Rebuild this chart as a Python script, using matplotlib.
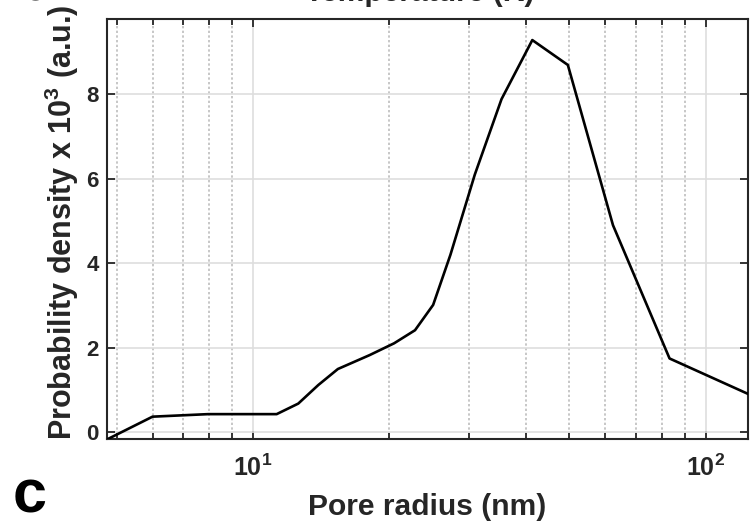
"""Pore radius distribution (panel c), MATLAB-style log-x line plot."""

import matplotlib

matplotlib.use("Agg")
import matplotlib.pyplot as plt
from matplotlib.ticker import FixedLocator, LogLocator, NullFormatter

plt.rcParams["font.family"] = ["Liberation Sans", "DejaVu Sans"]
plt.rcParams["font.weight"] = "bold"
plt.rcParams["mathtext.fontset"] = "custom"
plt.rcParams["mathtext.rm"] = "Liberation Sans:bold"
plt.rcParams["mathtext.bf"] = "Liberation Sans:bold"
plt.rcParams["mathtext.it"] = "Liberation Sans:bold"

# values
pore_radius_nm = [4.76, 6.0, 7.96, 11.28, 12.59, 13.94, 15.4, 18.1, 20.5,
                  22.8, 25.0, 27.3, 30.9, 35.4, 41.4, 49.6, 62.4, 83.2, 124.0]
density_e3 = [-0.18, 0.36, 0.42, 0.42, 0.67, 1.11, 1.49, 1.82, 2.1,
              2.41, 3.01, 4.2, 6.1, 7.89, 9.29, 8.7, 4.9, 1.74, 0.9]
y_ticks = [0, 2, 4, 6, 8]
x_ticks = [10, 100]
x_tick_labels = [r"$\mathbf{10^{1}}$", r"$\mathbf{10^{2}}$"]

TEXT = "#262626"

fig = plt.figure(figsize=(7.52, 5.29), dpi=100)
ax = fig.add_axes([0.1423, 0.1701, 0.8524, 0.7940])

ax.plot(pore_radius_nm, density_e3, color="black", linewidth=1.9, zorder=3)

ax.set_xscale("log")
ax.set_xlim(4.76, 124)
ax.set_ylim(-0.17, 9.79)

ax.xaxis.set_major_locator(FixedLocator(x_ticks))
ax.set_xticklabels(x_tick_labels)
ax.xaxis.set_minor_locator(LogLocator(base=10, subs=range(2, 10)))
ax.xaxis.set_minor_formatter(NullFormatter())
ax.set_yticks(y_ticks)

ax.grid(which="major", color="#dedede", linewidth=1.2, linestyle="-")
ax.grid(which="minor", axis="x", color="#bdbdbd", linewidth=1.2, linestyle=(0, (1.4, 1.4)))
ax.set_axisbelow(True)

ax.tick_params(which="both", direction="in", top=True, right=True, colors=TEXT, width=1.3)
ax.tick_params(which="major", length=5.5)
ax.tick_params(which="minor", length=4)
ax.tick_params(axis="x", which="major", pad=11, labelsize=18)
ax.tick_params(axis="y", which="major", pad=6, labelsize=16)
for side in ax.spines.values():
    side.set_color(TEXT)
    side.set_linewidth(1.5)

ax.set_xlabel("Pore radius (nm)", fontsize=21.6, fontweight="bold", color=TEXT, labelpad=9)
ax.set_ylabel(r"Probability density x 10$^{\mathbf{3}}$ (a.u.)", fontsize=22,
              fontweight="bold", color=TEXT)
ax.yaxis.set_label_coords(-0.04, 0.515)

# fragments of neighbouring panels, clipped by the figure edge as in the source
fig.text(0.5585, 0.9975, "Temperature (K)", fontsize=21.6, fontweight="bold",
         color=TEXT, ha="center", va="baseline")
fig.text(0.017, 1.0, "b", fontsize=44, fontweight="heavy", color="black",
         ha="left", va="baseline")
fig.text(0.017, 0.032, "c", fontsize=44, fontweight="heavy", color="black",
         ha="left", va="baseline")

fig.savefig("out.png", dpi=100)
